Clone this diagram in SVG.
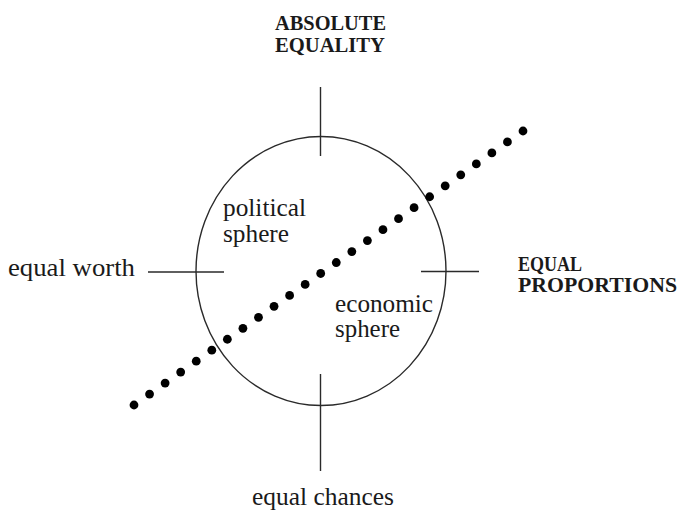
<svg xmlns="http://www.w3.org/2000/svg" width="678" height="511" viewBox="0 0 678 511">
<style>
.ax{stroke:#2a2a2a;stroke-width:1.4;fill:none}
.cap{font-family:"Liberation Serif",serif;font-weight:bold;font-size:20px;fill:#1a1a1a}
.lc{font-family:"Liberation Serif",serif;font-size:25px;fill:#1a1a1a}
.dot{fill:#000}
</style>
<rect width="678" height="511" fill="#fff"/>
<g id="spheres">
<ellipse cx="321" cy="271" rx="125" ry="134.5" class="ax" stroke-width="1.3"/>
</g>
<g id="connectors">
<line x1="320.5" y1="87" x2="320.5" y2="156" class="ax"/>
<line x1="320.5" y1="374" x2="320.5" y2="471" class="ax"/>
<line x1="148" y1="272" x2="224" y2="272" class="ax"/>
<line x1="421" y1="271.5" x2="479" y2="271.5" class="ax"/>
</g>
<g id="dotted-line">
<circle class="dot" cx="134" cy="405" r="4.4"/>
<circle class="dot" cx="149.56" cy="394.04" r="4.4"/>
<circle class="dot" cx="165.12" cy="383.08" r="4.4"/>
<circle class="dot" cx="180.68" cy="372.12" r="4.4"/>
<circle class="dot" cx="196.24" cy="361.16" r="4.4"/>
<circle class="dot" cx="211.8" cy="350.2" r="4.4"/>
<circle class="dot" cx="227.36" cy="339.24" r="4.4"/>
<circle class="dot" cx="242.92" cy="328.28" r="4.4"/>
<circle class="dot" cx="258.48" cy="317.32" r="4.4"/>
<circle class="dot" cx="274.04" cy="306.36" r="4.4"/>
<circle class="dot" cx="289.6" cy="295.4" r="4.4"/>
<circle class="dot" cx="305.16" cy="284.44" r="4.4"/>
<circle class="dot" cx="320.72" cy="273.48" r="4.4"/>
<circle class="dot" cx="336.28" cy="262.52" r="4.4"/>
<circle class="dot" cx="351.84" cy="251.56" r="4.4"/>
<circle class="dot" cx="367.4" cy="240.6" r="4.4"/>
<circle class="dot" cx="382.96" cy="229.64" r="4.4"/>
<circle class="dot" cx="398.52" cy="218.68" r="4.4"/>
<circle class="dot" cx="414.08" cy="207.72" r="4.4"/>
<circle class="dot" cx="429.64" cy="196.76" r="4.4"/>
<circle class="dot" cx="445.2" cy="185.8" r="4.4"/>
<circle class="dot" cx="460.76" cy="174.84" r="4.4"/>
<circle class="dot" cx="476.32" cy="163.88" r="4.4"/>
<circle class="dot" cx="491.88" cy="152.92" r="4.4"/>
<circle class="dot" cx="507.44" cy="141.96" r="4.4"/>
<circle class="dot" cx="523" cy="131" r="4.4"/>
</g>
<g id="absolute-equality">
<text class="cap" x="275" y="30" textLength="111" lengthAdjust="spacingAndGlyphs">ABSOLUTE</text>
<text class="cap" x="275" y="52" textLength="110" lengthAdjust="spacingAndGlyphs">EQUALITY</text>
</g>
<g id="equal-proportions">
<text class="cap" x="518" y="271" textLength="64" lengthAdjust="spacingAndGlyphs">EQUAL</text>
<text class="cap" x="518" y="292" textLength="159" lengthAdjust="spacingAndGlyphs">PROPORTIONS</text>
</g>
<g id="equal-worth">
<text class="lc" x="8" y="276" textLength="127" lengthAdjust="spacingAndGlyphs">equal  worth</text>
</g>
<g id="equal-chances">
<text class="lc" x="252" y="505" textLength="142" lengthAdjust="spacingAndGlyphs">equal  chances</text>
</g>
<g id="political-sphere">
<text class="lc" x="223" y="216" textLength="83" lengthAdjust="spacingAndGlyphs">political</text>
<text class="lc" x="223" y="242" textLength="66" lengthAdjust="spacingAndGlyphs">sphere</text>
</g>
<g id="economic-sphere">
<text class="lc" x="335" y="312" textLength="98" lengthAdjust="spacingAndGlyphs">economic</text>
<text class="lc" x="335" y="337" textLength="65" lengthAdjust="spacingAndGlyphs">sphere</text>
</g>
</svg>
